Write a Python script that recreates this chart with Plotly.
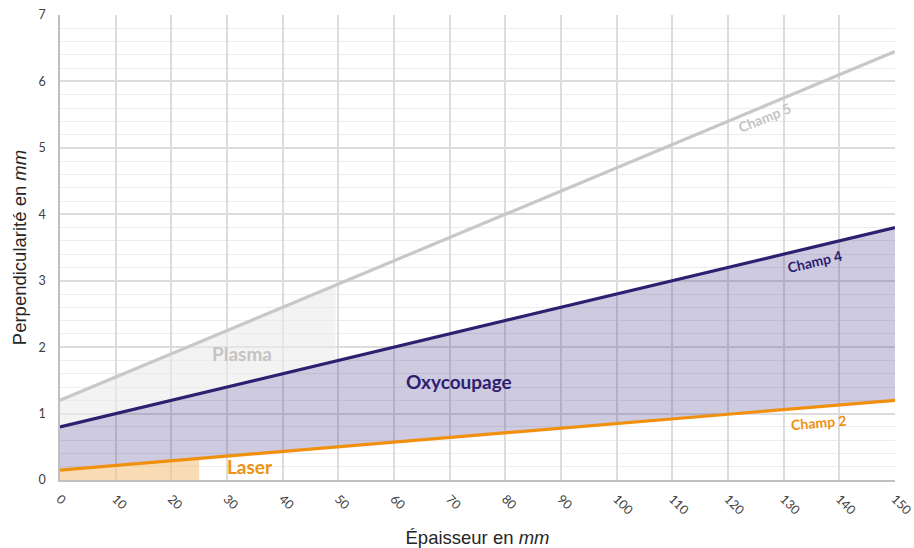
import plotly.graph_objects as go

# Data
x_thick = [0, 150]
champ2 = [0.15, 1.2]
champ4 = [0.8, 3.8]
champ5 = [1.2, 6.45]

plasma_x = [0, 49.5]
plasma_low = [0.8, 1.79]
plasma_high = [1.2, 2.93]

laser_x = [0, 25]
laser_high = [0.15, 0.325]

x_ticks = list(range(0, 151, 10))
y_ticks = list(range(0, 8))

PURPLE = "#2e2070"
ORANGE = "#f0900f"
GRAY = "#c8c8c8"
FONT = "Lato"
TITLE_FONT = "Liberation Sans"

fig = go.Figure()

# Plasma fill (between champ 4 and champ 5, x 0..~50)
fig.add_trace(go.Scatter(x=plasma_x, y=plasma_low, mode="lines", line=dict(width=0),
                         showlegend=False, hoverinfo="skip"))
fig.add_trace(go.Scatter(x=plasma_x, y=plasma_high, mode="lines", line=dict(width=0),
                         fill="tonexty", fillcolor="rgba(235,235,235,0.6)",
                         showlegend=False, hoverinfo="skip"))
# Laser fill
fig.add_trace(go.Scatter(x=laser_x, y=laser_high, mode="lines", line=dict(width=0),
                         fill="tozeroy", fillcolor="rgba(247,196,130,0.6)",
                         showlegend=False, hoverinfo="skip"))
# Oxycoupage fill between champ 2 and champ 4
fig.add_trace(go.Scatter(x=x_thick, y=champ2, mode="lines", line=dict(width=0),
                         showlegend=False, hoverinfo="skip"))
fig.add_trace(go.Scatter(x=x_thick, y=champ4, mode="lines", line=dict(width=0),
                         fill="tonexty", fillcolor="rgba(60,45,130,0.25)",
                         showlegend=False, hoverinfo="skip"))

# Lines
fig.add_trace(go.Scatter(x=x_thick, y=champ5, mode="lines", line=dict(color=GRAY, width=3.2),
                         name="Champ 5", showlegend=False))
fig.add_trace(go.Scatter(x=x_thick, y=champ4, mode="lines", line=dict(color=PURPLE, width=3.2),
                         name="Champ 4", showlegend=False))
fig.add_trace(go.Scatter(x=x_thick, y=champ2, mode="lines", line=dict(color=ORANGE, width=3.2),
                         name="Champ 2", showlegend=False))

annots = [
    dict(x=126.6, y=5.45, text="<b>Champ 5</b>", color="#c4c4c4", size=14, angle=-22),
    dict(x=135.5, y=3.29, text="<b>Champ 4</b>", color=PURPLE, size=14, angle=-13),
    dict(x=136.2, y=0.87, text="<b>Champ 2</b>", color=ORANGE, size=14, angle=-5),
    dict(x=32.7, y=1.91, text="<b>Plasma</b>", color="#c4c4c4", size=19, angle=0),
    dict(x=71.7, y=1.48, text="<b>Oxycoupage</b>", color=PURPLE, size=19, angle=0),
    dict(x=34.1, y=0.21, text="<b>Laser</b>", color=ORANGE, size=19, angle=0),
]
for a in annots:
    fig.add_annotation(x=a["x"], y=a["y"], text=a["text"], showarrow=False,
                       textangle=a["angle"],
                       font=dict(family=FONT, size=a["size"], color=a["color"]))

fig.update_layout(
    width=914, height=548,
    margin=dict(l=60, r=19, t=15, b=68),
    plot_bgcolor="white", paper_bgcolor="white",
    font=dict(family=FONT, color="#404040"),
    xaxis=dict(range=[0, 150], tickvals=x_ticks, tickangle=45, automargin=False,
               ticklabeloverflow="allow",
               showgrid=True, gridcolor="#dcdcdc", gridwidth=1.5,
               showline=True, linecolor="#bfbfbf", linewidth=1.5,
               zeroline=False, ticks="", ticklabelstandoff=5,
               tickfont=dict(size=12.5, color="#404040"),
               title=dict(text="Épaisseur en <i>mm</i>", font=dict(family=TITLE_FONT, size=18.5, color="#262626"), standoff=20)),
    yaxis=dict(range=[0, 7], tickvals=y_ticks, automargin=False,
               ticklabeloverflow="allow",
               showgrid=True, gridcolor="#dcdcdc", gridwidth=1.5,
               showline=True, linecolor="#bfbfbf", linewidth=1.5,
               zeroline=False, ticks="", ticklabelstandoff=10,
               tickfont=dict(size=12.5, color="#404040"),
               minor=dict(dtick=0.2, showgrid=True, gridcolor="#ececec", gridwidth=1),
               title=dict(text="Perpendicularité en <i>mm</i>", font=dict(family=TITLE_FONT, size=18.5, color="#262626"), standoff=7)),
)

fig.write_html("out.html", config={"displayModeBar": False},
               post_script="document.body.style.margin='0px';document.body.style.overflow='hidden';")
